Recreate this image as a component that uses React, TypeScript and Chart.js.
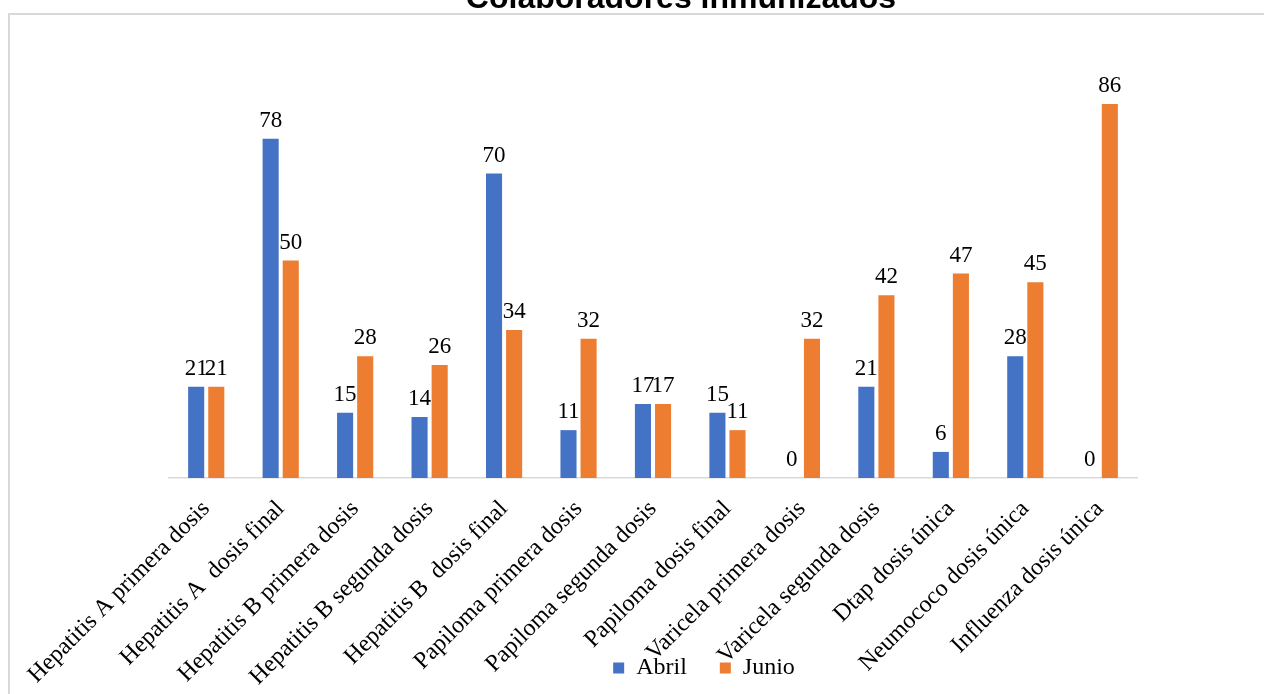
import { useEffect, useRef } from "react";
import { Chart, registerables, type ChartConfiguration, type Plugin } from "chart.js";

Chart.register(...registerables);

const TITLE = "Colaboradores inmunizados";

const categories = [
    "Hepatitis A primera dosis",
    "Hepatitis A  dosis final",
    "Hepatitis B primera dosis",
    "Hepatitis B segunda dosis",
    "Hepatitis B  dosis final",
    "Papiloma primera dosis",
    "Papiloma segunda dosis",
    "Papiloma dosis final",
    "Varicela primera dosis",
    "Varicela segunda dosis",
    "Dtap dosis única",
    "Neumococo dosis única",
    "Influenza dosis única",
];

const abril = [21, 78, 15, 14, 70, 11, 17, 15, 0, 21, 6, 28, 0];
const junio = [21, 50, 28, 26, 34, 32, 17, 11, 32, 42, 47, 45, 86];

const SERIF = "'Liberation Serif', 'Times New Roman', serif";

const App = () => {
    const chartRef = useRef<HTMLCanvasElement>(null);
    const chartInstanceRef = useRef<Chart | null>(null);

    useEffect(() => {
        if (!chartRef.current) return;
        if (chartInstanceRef.current) chartInstanceRef.current.destroy();

        // value labels above each bar
        const valuePlugin: Plugin<"bar"> = {
            id: "valueLabels",
            afterDatasetsDraw: (chart) => {
                const { ctx } = chart;
                ctx.save();
                ctx.font = `23px ${SERIF}`;
                ctx.fillStyle = "#000";
                ctx.textAlign = "center";
                ctx.textBaseline = "alphabetic";
                chart.data.datasets.forEach((ds, i) => {
                    chart.getDatasetMeta(i).data.forEach((bar, j) => {
                        ctx.fillText(String(ds.data[j]), bar.x, bar.y - 12);
                    });
                });
                ctx.restore();
            },
        };

        // category labels run down over the legend, so let the x axis
        // label clip reach the bottom of the canvas
        const labelRoomPlugin: Plugin<"bar"> = {
            id: "labelRoom",
            afterLayout: (chart) => {
                chart.scales.x.bottom = chart.height;
            },
        };

        // title sits half outside the frame, like in the source sheet
        const titlePlugin: Plugin<"bar"> = {
            id: "sheetTitle",
            afterDraw: (chart) => {
                const { ctx } = chart;
                ctx.save();
                ctx.font = "bold 32px 'Liberation Sans', Arial, sans-serif";
                ctx.fillStyle = "#000";
                ctx.textAlign = "center";
                ctx.textBaseline = "alphabetic";
                ctx.fillText(TITLE, 681, 37.5);
                ctx.restore();
            },
        };

        const config: ChartConfiguration<"bar"> = {
            type: "bar",
            data: {
                labels: categories,
                datasets: [
                    {
                        label: "Abril",
                        data: abril,
                        backgroundColor: "#4472C4",
                        categoryPercentage: 0.54,
                        barPercentage: 0.8,
                    },
                    {
                        label: "Junio",
                        data: junio,
                        backgroundColor: "#ED7D31",
                        categoryPercentage: 0.54,
                        barPercentage: 0.8,
                    },
                ],
            },
            options: {
                animation: false,
                responsive: true,
                maintainAspectRatio: false,
                layout: {
                    padding: { top: 73, left: 169, right: 25, bottom: 9 },
                },
                plugins: {
                    title: { display: false },
                    tooltip: { enabled: false },
                    legend: {
                        position: "bottom",
                        labels: {
                            boxWidth: 11,
                            boxHeight: 11,
                            padding: 33,
                            color: "#000",
                            font: { family: SERIF, size: 24 },
                        },
                    },
                },
                scales: {
                    x: {
                        grid: { display: false, drawTicks: false },
                        border: { color: "#d9d9d9", width: 1.5 },
                        ticks: {
                            autoSkip: false,
                            minRotation: 45,
                            maxRotation: 45,
                            padding: 17,
                            color: "#000",
                            font: { family: SERIF, size: 24 },
                        },
                        afterFit: (scale) => {
                            scale.height = 145;
                        },
                    },
                    y: {
                        display: false,
                        min: 0,
                        max: 100,
                    },
                    y2: {
                        type: "linear",
                        position: "right",
                        display: true,
                        ticks: { display: false },
                        grid: { display: false, drawTicks: false },
                        border: { display: false },
                        afterFit: (scale) => {
                            scale.width = 102;
                        },
                    },
                },
            },
            plugins: [valuePlugin, labelRoomPlugin, titlePlugin],
        };

        chartInstanceRef.current = new Chart(chartRef.current, config);

        return () => {
            chartInstanceRef.current?.destroy();
            chartInstanceRef.current = null;
        };
    }, []);

    return (
        <div
            style={{
                position: "fixed",
                left: 0,
                top: 0,
                width: "1264px",
                height: "694px",
                overflow: "hidden",
                background: "#fff",
            }}
        >
            <div
                style={{
                    position: "absolute",
                    left: "8px",
                    top: "13px",
                    width: "1400px",
                    height: "800px",
                    border: "2px solid #d9d9d9",
                }}
            />
            <div
                style={{
                    position: "absolute",
                    left: 0,
                    top: "-30px",
                    width: "1264px",
                    height: "729px",
                }}
            >
                <canvas ref={chartRef} />
            </div>
        </div>
    );
};

export default App;
